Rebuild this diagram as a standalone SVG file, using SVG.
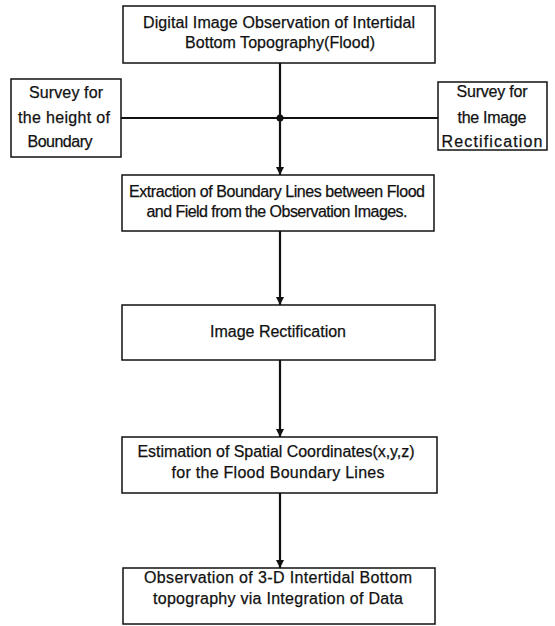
<svg xmlns="http://www.w3.org/2000/svg" width="555" height="626" viewBox="0 0 555 626">
<style>
.box{fill:#fff;stroke:#111;stroke-width:1.5}
.t{font-family:"Liberation Sans",Arial,sans-serif;font-size:16px;fill:#111;stroke:#111;stroke-width:0.25;text-anchor:middle}
.c{stroke:#111;stroke-width:2.2;fill:none}
.h{stroke:#111;stroke-width:1.8;fill:none}
</style>
<defs>
<marker id="ah" viewBox="0 0 8 10" refX="8" refY="5" markerWidth="8" markerHeight="10" markerUnits="userSpaceOnUse" orient="auto">
<path d="M0,1 L8,5 L0,9 Z" fill="#111"/>
</marker>
</defs>
<rect width="555" height="626" fill="#fff"/>
<g id="connectors">
<line class="h" x1="121" y1="118" x2="438" y2="118"/>
<line class="c" x1="280" y1="63" x2="280" y2="175" marker-end="url(#ah)"/>
<circle cx="280" cy="118" r="3.5" fill="#111"/>
<line class="c" x1="280" y1="231" x2="280" y2="305" marker-end="url(#ah)"/>
<line class="c" x1="280" y1="360" x2="280" y2="437" marker-end="url(#ah)"/>
<line class="c" x1="280" y1="493" x2="280" y2="568" marker-end="url(#ah)"/>
</g>
<g id="n1">
<rect class="box" x="123" y="6" width="312" height="57"/>
<text class="t" x="279" y="28" textLength="272" lengthAdjust="spacing">Digital Image Observation of Intertidal</text>
<text class="t" x="280" y="48" textLength="190" lengthAdjust="spacing">Bottom Topography(Flood)</text>
</g>
<g id="n_left">
<rect class="box" x="11" y="79" width="110" height="78"/>
<text class="t" x="66" y="98" textLength="74" lengthAdjust="spacing">Survey for</text>
<text class="t" x="64" y="123" textLength="92" lengthAdjust="spacing">the height of</text>
<text class="t" x="60" y="147" textLength="65" lengthAdjust="spacing">Boundary</text>
</g>
<g id="n_right">
<rect class="box" x="438" y="82" width="109" height="68"/>
<text class="t" x="492" y="97" textLength="71" lengthAdjust="spacing">Survey for</text>
<text class="t" x="492" y="123" textLength="69" lengthAdjust="spacing">the Image</text>
<text class="t" x="492" y="147" textLength="101" lengthAdjust="spacing">Rectification</text>
</g>
<g id="n2">
<rect class="box" x="122" y="175" width="312" height="56"/>
<text class="t" x="277" y="197" textLength="296" lengthAdjust="spacing">Extraction of Boundary Lines between Flood</text>
<text class="t" x="277" y="217" textLength="261" lengthAdjust="spacing">and Field from the Observation Images.</text>
</g>
<g id="n3">
<rect class="box" x="122" y="305" width="313" height="55"/>
<text class="t" x="278" y="337" textLength="136" lengthAdjust="spacing">Image Rectification</text>
</g>
<g id="n4">
<rect class="box" x="122" y="437" width="315" height="56"/>
<text class="t" x="276" y="457" textLength="277" lengthAdjust="spacing">Estimation of Spatial Coordinates(x,y,z)</text>
<text class="t" x="278" y="478" textLength="213" lengthAdjust="spacing">for the Flood Boundary Lines</text>
</g>
<g id="n5">
<rect class="box" x="123" y="568" width="312" height="56"/>
<text class="t" x="278" y="583" textLength="268" lengthAdjust="spacing">Observation of 3-D Intertidal Bottom</text>
<text class="t" x="278" y="604" textLength="250" lengthAdjust="spacing">topography via Integration of Data</text>
</g>
</svg>
